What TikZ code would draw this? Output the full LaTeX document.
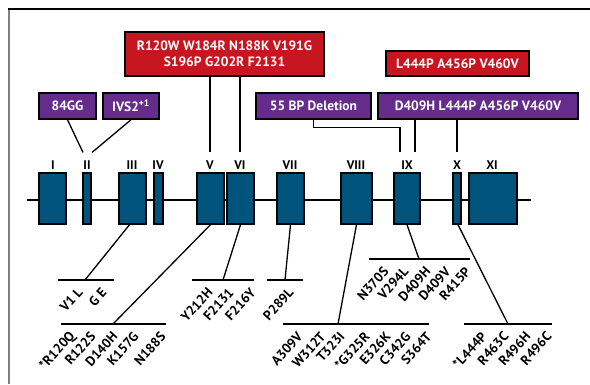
\documentclass[tikz,border=0pt]{standalone}
\usepackage{fontspec}
\setmainfont{PT Sans}
\definecolor{gred}{RGB}{200,22,32}
\definecolor{gpurple}{RGB}{102,44,140}
\definecolor{gblue}{RGB}{0,84,124}
\begin{document}
\begin{tikzpicture}[x=1pt,y=-1pt,
  exon/.style={draw=black, line width=1.4pt, fill=gblue, inner sep=0, minimum height=51pt},
  rbox/.style={draw=black, line width=1.5pt, fill=gred, text=white, font=\bfseries\fontsize{13.5}{15.5}\selectfont, inner sep=0, align=center},
  pbox/.style={draw=black, line width=1.5pt, fill=gpurple, text=white, font=\bfseries\fontsize{13.5}{15}\selectfont, inner sep=0, minimum height=26pt},
  conn/.style={line width=1.3pt},
  barline/.style={line width=1.5pt},
  lab/.style={rotate=48, anchor=east, font=\bfseries\fontsize{13.5}{14}\selectfont, inner sep=0},
  exlab/.style={font=\bfseries\fontsize{12.5}{13}\selectfont, inner sep=0}]
\useasboundingbox (0,0) rectangle (590,384);
\fill[white] (0,0) rectangle (590,384);
\draw[gray, line width=1.2pt] (9,9) -- (9,384);
\draw[black, line width=1.5pt] (8.4,9) -- (590,9);
% backbone
\coordinate (bbL) at (27,200);
\coordinate (bbR) at (531,200);
\draw[line width=1.5pt] (bbL) -- (bbR);
% exons
\node[exon, minimum width=27pt] (e1) at (52.5,198.5) {};
\node[exon, minimum width=8pt] (e2) at (87,198.5) {};
\node[exon, minimum width=27pt] (e3) at (132.5,198.5) {};
\node[exon, minimum width=9pt] (e4) at (158.5,198.5) {};
\node[exon, minimum width=27pt] (e5) at (210.5,198.5) {};
\node[exon, minimum width=27pt] (e6) at (240.5,198.5) {};
\node[exon, minimum width=27pt] (e7) at (290.5,198.5) {};
\node[exon, minimum width=31pt] (e8) at (356.5,198.5) {};
\node[exon, minimum width=26pt] (e9) at (407,198.5) {};
\node[exon, minimum width=8pt] (e10) at (457,198.5) {};
\node[exon, minimum width=48pt] (e11) at (493,198.5) {};
% exon labels
\node[exlab] (l1) at (53,165) {I};
\node[exlab] (l2) at (87,165) {II};
\node[exlab] (l3) at (132,165) {III};
\node[exlab] (l4) at (158,165) {IV};
\node[exlab] (l5) at (210,165) {V};
\node[exlab] (l6) at (240,165) {VI};
\node[exlab] (l7) at (290,165) {VII};
\node[exlab] (l8) at (356,165) {VIII};
\node[exlab] (l9) at (407,165) {IX};
\node[exlab] (l10) at (457,165) {X};
\node[exlab] (l11) at (492,165) {XI};
% top boxes
\node[rbox, minimum width=199pt, minimum height=44pt] (r1) at (224.5,54) {R120W W184R N188K V191G\\S196P G202R F2131};
\node[rbox, minimum width=143pt, minimum height=25pt] (r2) at (457.5,63.5) {L444P A456P V460V};
\node[pbox, minimum width=57pt] (p1) at (67.5,106) {84GG};
\node[pbox, minimum width=56pt] (p2) at (131,106) {IVS2\textsuperscript{+1}};
\node[pbox, minimum width=115pt] (p3) at (313.5,106) {55 BP Deletion};
\node[pbox, minimum width=200pt] (p4) at (478,106) {D409H L444P A456P V460V};
% top connectors
\draw[conn] (r1.south -| l5.north) -- ([yshift=8pt]l5.north);
\draw[conn] (r1.south -| l6.north) -- ([yshift=8pt]l6.north);
\draw[conn] (p1.south) -- ([xshift=-4pt,yshift=8pt]l2.north);
\draw[conn] (p2.south) -- ([xshift=5pt,yshift=8pt]l2.north);
\draw[conn] (p3.south) -- ++(0,8) -| ([xshift=-7pt,yshift=8pt]l9.north);
\draw[conn] ([xshift=8pt]l9.north |- p4.south) -- ([xshift=8pt,yshift=8pt]l9.north);
\draw[conn] (l10.north |- p4.south) -- ([yshift=8pt]l10.north);
% bars
\coordinate (b3L) at (58,280); \coordinate (b3R) at (114,280); \coordinate (b3c) at (85,280);
\coordinate (b5L) at (61,324); \coordinate (b5R) at (166,324); \coordinate (b5c) at (113,324);
\coordinate (b6L) at (192,280); \coordinate (b6R) at (254,280); \coordinate (b6c) at (223,280);
\coordinate (b7L) at (267,280); \coordinate (b7R) at (303,280); \coordinate (b7c) at (285,280);
\coordinate (b8L) at (283,324); \coordinate (b8R) at (429,324); \coordinate (b8c) at (338,324);
\coordinate (b9L) at (369,259); \coordinate (b9R) at (470,259); \coordinate (b9c) at (419,259);
\coordinate (b10L) at (464,324); \coordinate (b10R) at (552,324); \coordinate (b10c) at (508,324);
\foreach \b in {3,5,6,7,8,9,10} {\draw[barline] (b\b L) -- (b\b R);}
% lower connectors
\draw[conn] ([xshift=-3pt]e3.south) -- (b3c);
\draw[conn] (e5.south) -- (b5c);
\draw[conn] (e6.south) -- (b6c);
\draw[conn] (e7.south) -- (b7c);
\draw[conn] (e8.south) -- (b8c);
\draw[conn] (e9.south) -- (b9c);
\draw[conn] ([xshift=1pt]e10.south) -- (b10c);
% mutation labels
\node[lab] (m31) at (80,290) {V1 L};
\node[lab] (m32) at (104,290) {G E};
\node[lab] (m51) at (73,334) {*R120Q};
\node[lab] (m52) at (93,334) {R122S};
\node[lab] (m53) at (115,334) {D140H};
\node[lab] (m54) at (136,334) {K157G};
\node[lab] (m55) at (163,334) {N188S};
\node[lab] (m61) at (210,290) {Y212H};
\node[lab] (m62) at (231,290) {F2131};
\node[lab] (m63) at (253,290) {F216Y};
\node[lab] (m71) at (291,290) {P289L};
\node[lab] (m81) at (300,334) {A309V};
\node[lab] (m82) at (323,334) {W312T};
\node[lab] (m83) at (342,334) {T323I};
\node[lab] (m84) at (367,334) {*G325R};
\node[lab] (m85) at (388,334) {E326K};
\node[lab] (m86) at (408,334) {C342G};
\node[lab] (m87) at (429,334) {S364T};
\node[lab] (m91) at (386,269) {N370S};
\node[lab] (m92) at (406,269) {V294L};
\node[lab] (m93) at (428,269) {D409H};
\node[lab] (m94) at (448,269) {D409V};
\node[lab] (m95) at (468,269) {R415P};
\node[lab] (m101) at (484,334) {*L444P};
\node[lab] (m102) at (506,334) {R463C};
\node[lab] (m103) at (528,334) {R496H};
\node[lab] (m104) at (549,334) {R496C};
\end{tikzpicture}
\end{document}
